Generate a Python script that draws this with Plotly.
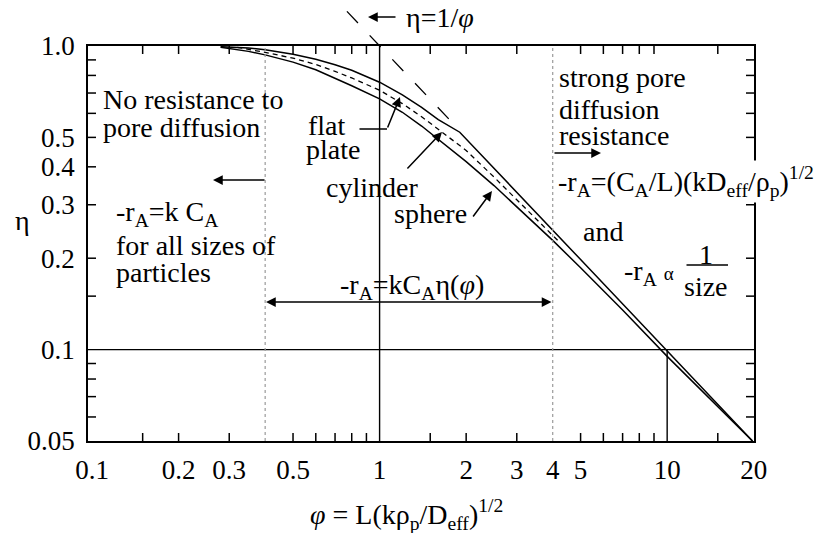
import math
import plotly.graph_objects as go

# ---------------- data ----------------
flat_phi = [0.28, 0.35, 0.4, 0.5, 0.6, 0.7, 0.8, 1.0, 1.2, 1.4, 1.6, 1.9, 5.0, 10.0, 19.8]
flat_eta = [0.995, 0.985, 0.972, 0.94, 0.905, 0.868, 0.832, 0.76, 0.69, 0.628, 0.572, 0.52, 0.198, 0.099, 0.05]

cyl_phi = [0.32, 0.4, 0.5, 0.6, 0.7, 0.8, 1.0, 1.2, 1.4, 1.6, 2.0, 2.5, 3.0, 3.5, 4.2]
cyl_eta = [0.99, 0.953, 0.912, 0.869, 0.825, 0.785, 0.715, 0.646, 0.585, 0.531, 0.453, 0.37, 0.312, 0.27, 0.227]

sph_phi = [0.28, 0.35, 0.4, 0.5, 0.6, 0.7, 0.8, 1.0, 1.2, 1.4, 1.6, 2.0, 2.5, 3.0, 4.0, 5.0, 7.0, 10.0, 14.0, 19.8]
sph_eta = [0.99, 0.96, 0.935, 0.885, 0.835, 0.785, 0.74, 0.67, 0.605, 0.545, 0.493, 0.416, 0.347, 0.296, 0.229, 0.186, 0.135, 0.095, 0.069, 0.05]

asym_phi = [0.77, 1.75]          # eta = 1/phi asymptote (dashed)
asym_eta = [1.30, 0.572]

phi_unit = 1.0                    # vertical solid line
phi_ten = 10.0                    # short vertical line below eta = 0.1
eta_ref = 0.1                     # horizontal solid line
regime_phi = [0.4, 4.0]           # dotted regime boundaries

x_tickvals = [0.1, 0.2, 0.3, 0.5, 1, 2, 3, 4, 5, 10, 20]
x_ticktext = ["0.1", "0.2", "0.3", "0.5", "1", "2", "3", "4", "5", "10", "20"]
x_tickmarks = [0.15, 0.2, 0.3, 0.5, 0.6, 0.7, 0.8, 0.9, 1.5, 2, 3, 5, 6, 7, 8, 9, 15]

y_tickvals = [0.05, 0.1, 0.2, 0.3, 0.4, 0.5, 1.0]
y_ticktext = ["0.05", "0.1", "0.2", "0.3", "0.4", "0.5", "1.0"]
y_tickmarks = [0.06, 0.07, 0.08, 0.09, 0.15, 0.2, 0.3, 0.4, 0.5, 0.6, 0.7, 0.8, 0.9]

Y_MIN, Y_MAX = 0.05, 1.0
X_RANGE = [-1.014, 1.302]
Y_RANGE = [math.log10(Y_MIN), math.log10(Y_MAX)]
X_MIN, X_MAX = 10 ** X_RANGE[0], 10 ** X_RANGE[1]

# ---------------- layout geometry ----------------
W, H = 839, 533
ML, MR, MT, MB = 88, 85, 5, 92
PLOT_TOP = 46
area_h = H - MT - MB
plot_w = W - ML - MR
plot_h = H - MB - PLOT_TOP
ydom_top = plot_h / area_h
y2_top = Y_RANGE[0] + (Y_RANGE[1] - Y_RANGE[0]) / ydom_top

FONT = "'Liberation Serif', 'Times New Roman', Times, serif"
BLACK = "black"
TICK_LEN = 8
# tick length expressed as a factor along each log axis
kx = 10 ** (TICK_LEN * (X_RANGE[1] - X_RANGE[0]) / plot_w)
ky = 10 ** (TICK_LEN * (Y_RANGE[1] - Y_RANGE[0]) / plot_h)


def P(px, py):
    return (px - ML) / plot_w, (H - MB - py) / area_h


fig = go.Figure()

line_kw = dict(mode="lines", showlegend=False, hoverinfo="skip")
fig.add_trace(go.Scatter(x=flat_phi, y=flat_eta, line=dict(color=BLACK, width=1.5), **line_kw))
fig.add_trace(go.Scatter(x=cyl_phi, y=cyl_eta, line=dict(color=BLACK, width=1.3, dash="5px,4px"), **line_kw))
fig.add_trace(go.Scatter(x=sph_phi, y=sph_eta, line=dict(color=BLACK, width=1.5), **line_kw))

# reference lines
fig.add_trace(go.Scatter(x=[phi_unit, phi_unit], y=[Y_MIN, Y_MAX], line=dict(color=BLACK, width=1.4), **line_kw))
fig.add_trace(go.Scatter(x=[phi_ten, phi_ten], y=[Y_MIN, eta_ref], line=dict(color=BLACK, width=1.4), **line_kw))
fig.add_trace(go.Scatter(x=[X_MIN, X_MAX], y=[eta_ref, eta_ref], line=dict(color=BLACK, width=1.4), **line_kw))
for p in regime_phi:
    fig.add_trace(go.Scatter(x=[p, p], y=[Y_MIN, Y_MAX], line=dict(color="#9a9a9a", width=1.2, dash="dot"), **line_kw))

# inside tick marks on all four sides, as short segments built from the tick arrays
tx, ty = [], []
for t in x_tickmarks:
    tx += [t, t, None, t, t, None]
    ty += [Y_MIN, Y_MIN * ky, None, Y_MAX, Y_MAX / ky, None]
for t in y_tickmarks:
    tx += [X_MIN, X_MIN * kx, None, X_MAX, X_MAX / kx, None]
    ty += [t, t, None, t, t, None]
fig.add_trace(go.Scatter(x=tx, y=ty, connectgaps=False, line=dict(color=BLACK, width=1.5), **line_kw))

# asymptote eta = 1/phi, allowed to run above the frame (taller invisible subplot)
fig.add_trace(go.Scatter(x=asym_phi, y=asym_eta, xaxis="x2", yaxis="y2",
                         line=dict(color=BLACK, width=1.3, dash="16px,17px"), **line_kw))

axis_common = dict(type="log", showgrid=False, zeroline=False, showline=True,
                   linecolor=BLACK, linewidth=1.6, mirror=True, ticks="",
                   automargin=False, tickmode="array",
                   tickfont=dict(family=FONT, size=27, color=BLACK))

fig.update_layout(
    template="none",
    width=W, height=H,
    margin=dict(l=ML, r=MR, t=MT, b=MB, pad=0, autoexpand=False),
    paper_bgcolor="white", plot_bgcolor="rgba(0,0,0,0)",
    showlegend=False,
    font=dict(family=FONT, size=27, color=BLACK),
    xaxis=dict(range=X_RANGE, domain=[0, 1], anchor="y",
               tickvals=x_tickvals, ticktext=x_ticktext,
               ticklabelstandoff=4, **axis_common),
    yaxis=dict(range=Y_RANGE, domain=[0, ydom_top], anchor="x",
               tickvals=y_tickvals, ticktext=y_ticktext,
               ticklabelstandoff=6, **axis_common),
    xaxis2=dict(type="log", range=X_RANGE, domain=[0, 1], anchor="y2", visible=False, automargin=False),
    yaxis2=dict(type="log", range=[Y_RANGE[0], y2_top], domain=[0, 1], anchor="x2", visible=False, automargin=False),
)

ann = []


def text(t, px, py, xanchor="left", size=28, **kw):
    x, y = P(px, py)
    ann.append(dict(text=t, x=x, y=y, xref="paper", yref="paper", xanchor=xanchor,
                    yanchor="middle", showarrow=False,
                    font=dict(family=FONT, size=size, color=BLACK), **kw))


def arrow(tip, tail, head=2, side="end", width=1.5, size=1.3):
    x, y = P(*tip)
    ann.append(dict(text="", x=x, y=y, xref="paper", yref="paper",
                    ax=tail[0] - tip[0], ay=tail[1] - tip[1], axref="pixel", ayref="pixel",
                    showarrow=True, arrowhead=head, arrowside=side,
                    arrowwidth=width, arrowsize=size, arrowcolor=BLACK))


# left region
text("No resistance to", 101, 100)
text("pore diffusion", 101, 127)
arrow((213, 180), (266, 180))
text("-r<sub>A</sub>=k C<sub>A</sub>", 114, 214)
text("for all sizes of", 114, 245)
text("particles", 114, 272)

# curve labels
text("flat", 306, 125)
text("plate", 304, 150)
arrow((387, 129), (358, 129), head=0)
arrow((400, 97), (387, 129))
text("cylinder", 324, 187)
arrow((442, 132), (406, 170))
text("sphere", 392, 214)
arrow((492, 191), (472, 218))

# middle
text("-r<sub>A</sub>=kC<sub>A</sub>η(<i>φ</i>)", 412, 286, xanchor="center")
arrow((266, 302), (553, 302), side="end+start")

# asymptote label
text("η=1/<i>φ</i>", 404, 18)
arrow((368, 17), (397, 17))

# right region
text("strong pore", 557, 77)
text("diffusion", 557, 109)
text("resistance", 557, 135)
arrow((601, 153), (553, 153))
text("-r<sub>A</sub>=(C<sub>A</sub>/L)(kD<sub>eff</sub>/ρ<sub>p</sub>)<sup>1/2</sup>", 556, 182,
     bgcolor="white")
text("and", 581, 231)
text("-r<sub>A</sub> <span style='font-size:19px'>α</span>", 622, 272)
text("1", 706, 254, xanchor="center")
arrow((728, 265), (685, 265), head=0)
text("size", 706, 286, xanchor="center")

# axis titles
text("η", 22, 220, xanchor="center")
text("<i>φ</i> = L(kρ<sub>p</sub>/D<sub>eff</sub>)<sup>1/2</sup>", 406, 514, xanchor="center")

fig.update_layout(annotations=ann)

fig.write_html("out.html", config={"displayModeBar": False},
               post_script="document.body.style.margin='0px';")
